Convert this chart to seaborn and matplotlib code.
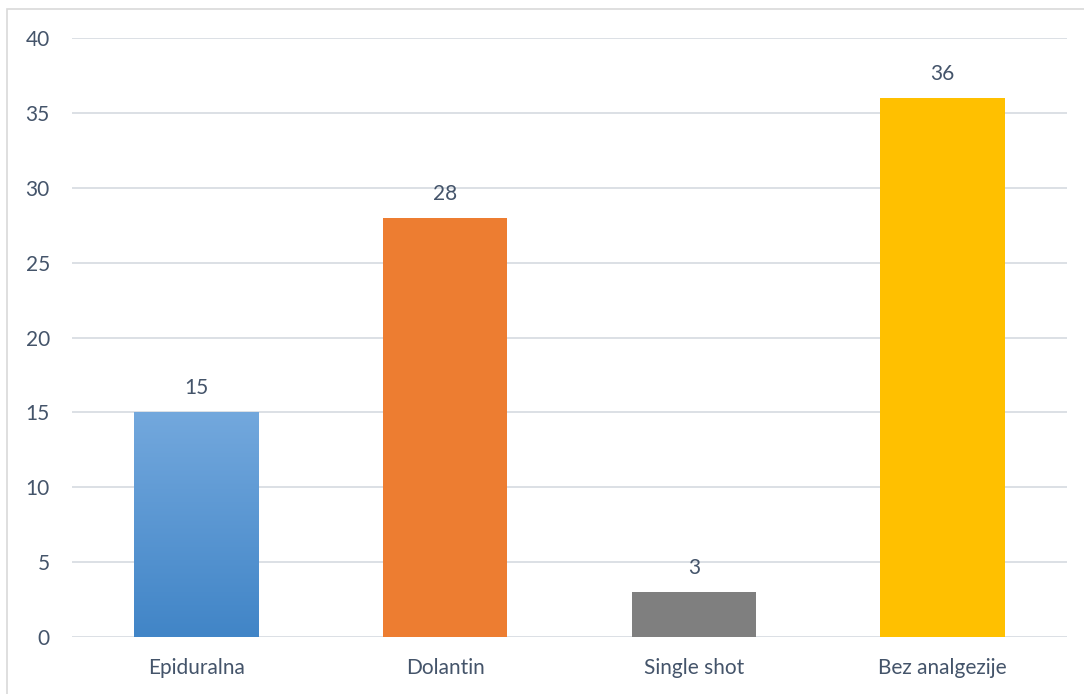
import numpy as np
import pandas as pd
import matplotlib
matplotlib.use("Agg")
import matplotlib.pyplot as plt
import matplotlib.colors as mcolors
from matplotlib.patches import Rectangle
import seaborn as sns

categories = ["Epiduralna", "Dolantin", "Single shot", "Bez analgezije"]
values = [15, 28, 3, 36]
bar_colors = ["#5B9BD5", "#ED7D31", "#7F7F7F", "#FFC000"]
y_ticks = [0, 5, 10, 15, 20, 25, 30, 35, 40]

df = pd.DataFrame({"kategorija": categories, "broj": values})

sns.set_theme(style="white")
plt.rcParams['font.family'] = ['Lato', 'DejaVu Sans']
text_col = "#44546A"
grid_col = "#D9DDE3"

fig = plt.figure(figsize=(10.84, 6.94), dpi=100)
ax = fig.add_axes([72/1084, 1 - 637/694, 995/1084, 599/694])

sns.barplot(data=df, x="kategorija", y="broj", hue="kategorija", palette=bar_colors,
            width=0.5, legend=False, ax=ax, saturation=1, zorder=3, linewidth=0)

# first bar gets a vertical gradient like the original
p = ax.patches[0]
x0, y0 = p.get_x(), p.get_y()
w, h = p.get_width(), p.get_height()
grad = mcolors.LinearSegmentedColormap.from_list("g", ["#4185C7", "#73A8DD"])
img = ax.imshow(np.linspace(0, 1, 256).reshape(-1, 1), cmap=grad, origin="lower",
                extent=[x0, x0 + w, y0, y0 + h], aspect="auto", zorder=4)
img.set_clip_path(p)
p.set_alpha(0)

ax.set_ylim(0, 40)
ax.set_xlim(-0.5, 3.5)
ax.set_yticks(y_ticks)
ax.yaxis.grid(True, color=grid_col, linewidth=1.3, zorder=0)
ax.set_axisbelow(True)
for s in ax.spines.values():
    s.set_visible(False)
ax.tick_params(axis="both", length=0, labelsize=15, colors=text_col)
ax.tick_params(axis="y", pad=16)
ax.tick_params(axis="x", pad=15)
ax.set_xlabel("")
ax.set_ylabel("")

for i, v in enumerate(values):
    ax.annotate(str(v), (i, v), xytext=(0, 10), textcoords="offset points",
                ha="center", va="bottom", fontsize=15, color=text_col)

# chart border
fig.patches.append(Rectangle((7/1084, -0.01), 1.1, 1 - 9/694 + 0.01, transform=fig.transFigure,
                             fill=False, edgecolor="#D9D9D9", linewidth=1.2))

fig.savefig("out.png", dpi=100)
